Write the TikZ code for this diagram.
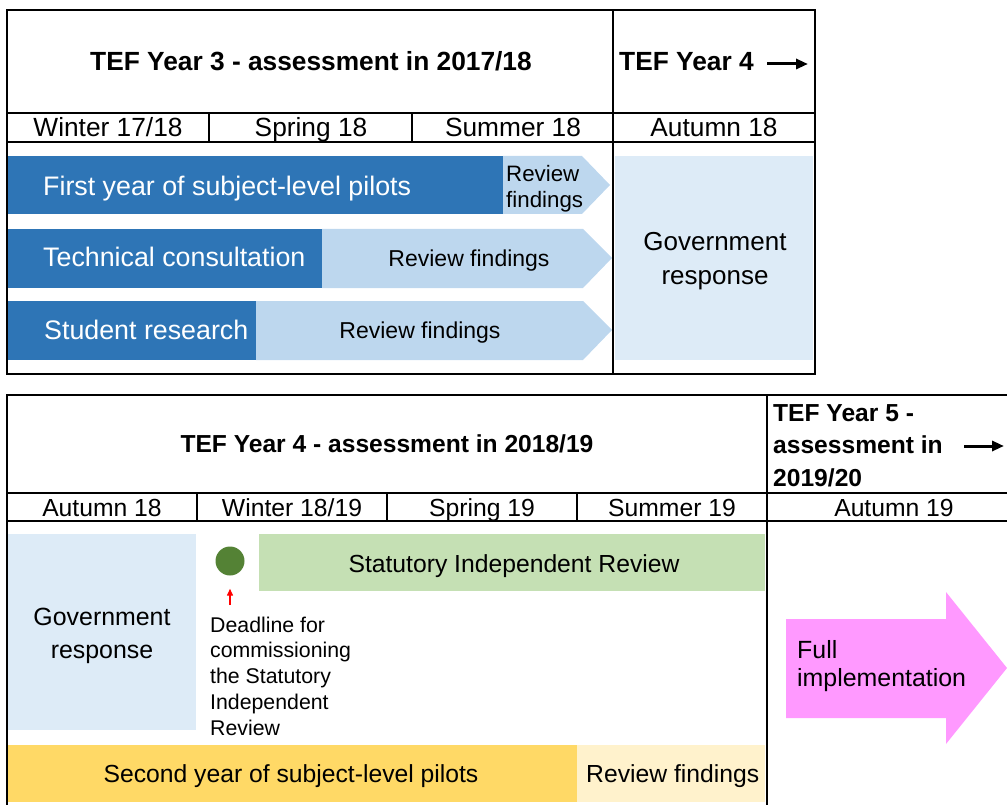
\documentclass[tikz,border=0pt]{standalone}
\usepackage{fontspec}
\setmainfont{Liberation Sans}
\usetikzlibrary{arrows.meta}

\definecolor{barblue}{HTML}{2E75B6}
\definecolor{revblue}{HTML}{BDD7EE}
\definecolor{govblue}{HTML}{DDEBF7}
\definecolor{sirgreen}{HTML}{C5E0B4}
\definecolor{dotgreen}{HTML}{548235}
\definecolor{pilotyellow}{HTML}{FFD966}
\definecolor{revyellow}{HTML}{FFF2CC}
\definecolor{implpink}{HTML}{FF99FF}

\tikzset{
	every node/.style={inner sep=0},
	frame/.style={line width=2pt},
	divider/.style={line width=1.5pt},
	hdrA/.style={font=\bfseries\fontsize{26.3}{33}\selectfont},
	hdrB/.style={font=\bfseries\fontsize{24.6}{32.5}\selectfont},
	seasonA/.style={font=\fontsize{26.3}{30}\selectfont},
	seasonB/.style={font=\fontsize{24.7}{30}\selectfont},
	barlabel/.style={white, font=\fontsize{26.8}{30}\selectfont},
	yeararrow/.style={line width=3pt, -{Triangle[length=12pt,width=10pt]}}
}

\begin{document}
\begin{tikzpicture}[x=1pt, y=-1pt]
	\useasboundingbox (0, 0) rectangle (1007, 805);

	% top chart: bars
	\fill[barblue] (7, 156) rectangle (503, 214);
	\fill[revblue] (503, 156) -- (582, 156) -- (610, 185) -- (582, 214) -- (503, 214) -- cycle;
	\fill[barblue] (7, 229) rectangle (322, 288);
	\fill[revblue] (322, 229) -- (583, 229) -- (612, 258) -- (583, 288) -- (322, 288) -- cycle;
	\fill[barblue] (7, 301) rectangle (256, 360);
	\fill[revblue] (256, 301) -- (583, 301) -- (612, 330) -- (583, 360) -- (256, 360) -- cycle;
	\fill[govblue] (615, 156) rectangle (813, 360);

	% top chart: grid
	\draw[frame] (7, 10) rectangle (815, 374);
	\draw[frame] (7, 113) -- (815, 113);
	\draw[frame] (7, 142) -- (815, 142);
	\draw[frame] (613, 10) -- (613, 374);
	\draw[divider] (209, 113) -- (209, 142);
	\draw[divider] (412, 113) -- (412, 142);

	% top chart: texts
	\node[hdrA, anchor=base] (yearthree) at (311, 71) {TEF Year 3 - assessment in 2017/18};
	\node[hdrA, anchor=base west] (yearfour) at (619, 71) {TEF Year 4};
	\coordinate (fourtip) at (808, 64);
	\draw[yeararrow] (767, 64) -- (fourtip);
	\node[seasonA, anchor=base] (winterA) at (108, 137) {Winter 17/18};
	\node[seasonA, anchor=base] (springA) at (311, 137) {Spring 18};
	\node[seasonA, anchor=base] (summerA) at (513, 137) {Summer 18};
	\node[seasonA, anchor=base] (autumnA) at (714, 137) {Autumn 18};
	\node[barlabel, anchor=base west] (pilotsA) at (43, 196) {First year of subject-level pilots};
	\node[anchor=base west, align=left, font=\fontsize{22.3}{26}\selectfont] (reviewA) at (506, 208) {Review\\findings};
	\node[barlabel, anchor=base west] (techcons) at (43, 267) {Technical consultation};
	\node[anchor=base, font=\fontsize{23}{26}\selectfont] (reviewB) at (469, 266) {Review findings};
	\node[barlabel, anchor=base west] (students) at (44, 339) {Student research};
	\node[anchor=base, font=\fontsize{23}{26}\selectfont] (reviewC) at (420, 338) {Review findings};
	\node[anchor=base, align=center, font=\fontsize{26}{34}\selectfont] (govA) at (715, 284) {Government\\response};

	% bottom chart: bars
	\fill[govblue] (7, 534) rectangle (196, 730);
	\fill[sirgreen] (259, 534) rectangle (765, 591);
	\fill[pilotyellow] (7, 745) rectangle (577, 802);
	\fill[revyellow] (577, 745) rectangle (765, 802);
	\fill[implpink] (786, 619) -- (946, 619) -- (946, 592) -- (1007, 668) -- (946, 744) -- (946, 718) -- (786, 718) -- cycle;

	% bottom chart: grid
	\draw[frame] (7, 805) -- (7, 395) -- (1007, 395);
	\draw[frame] (7, 493) -- (1007, 493);
	\draw[frame] (7, 521) -- (1007, 521);
	\draw[frame] (767, 395) -- (767, 805);
	\draw[divider] (197, 493) -- (197, 521);
	\draw[divider] (387, 493) -- (387, 521);
	\draw[divider] (577, 493) -- (577, 521);

	% bottom chart: texts
	\node[hdrB, anchor=base] (yearfourB) at (387, 452) {TEF Year 4 - assessment in 2018/19};
	\node[hdrB, anchor=base west, align=left] (yearfive) at (773, 486) {TEF Year 5 -\\assessment in\\2019/20};
	\coordinate (fivetip) at (1004, 446);
	\draw[yeararrow] (964, 446) -- (fivetip);
	\node[seasonB, anchor=base] (autumnB) at (102, 516) {Autumn 18};
	\node[seasonB, anchor=base] (winterB) at (292, 516) {Winter 18/19};
	\node[seasonB, anchor=base] (springB) at (482, 516) {Spring 19};
	\node[seasonB, anchor=base] (summerB) at (672, 516) {Summer 19};
	\node[seasonB, anchor=base] (autumnC) at (894, 516) {Autumn 19};
	\node[anchor=base, align=center, font=\fontsize{24.9}{33}\selectfont] (govB) at (102, 658) {Government\\response};
	\node[circle, fill=dotgreen, minimum size=29pt] (deadlinedot) at (230, 561) {};
	\node[seasonB, anchor=base] (sir) at (514, 572) {Statutory Independent Review};
	\node[anchor=base west, align=left, font=\fontsize{21.3}{25.75}\selectfont] (deadline) at (210, 735) {Deadline for\\commissioning\\the Statutory\\Independent\\Review};
	\coordinate (deadtail) at (230, 605);
	\draw[red, line width=1.3pt, -{Triangle[length=7pt,width=6pt]}] (deadtail) -- ([yshift=-13pt]deadlinedot.south);
	\node[seasonB, anchor=base] (pilotsB) at (291, 782) {Second year of subject-level pilots};
	\node[seasonB, anchor=base west] (reviewD) at (586, 782) {Review findings};
	\node[anchor=base west, align=left, font=\fontsize{24.9}{28}\selectfont] (fullimpl) at (797, 686) {Full\\implementation};
\end{tikzpicture}
\end{document}
